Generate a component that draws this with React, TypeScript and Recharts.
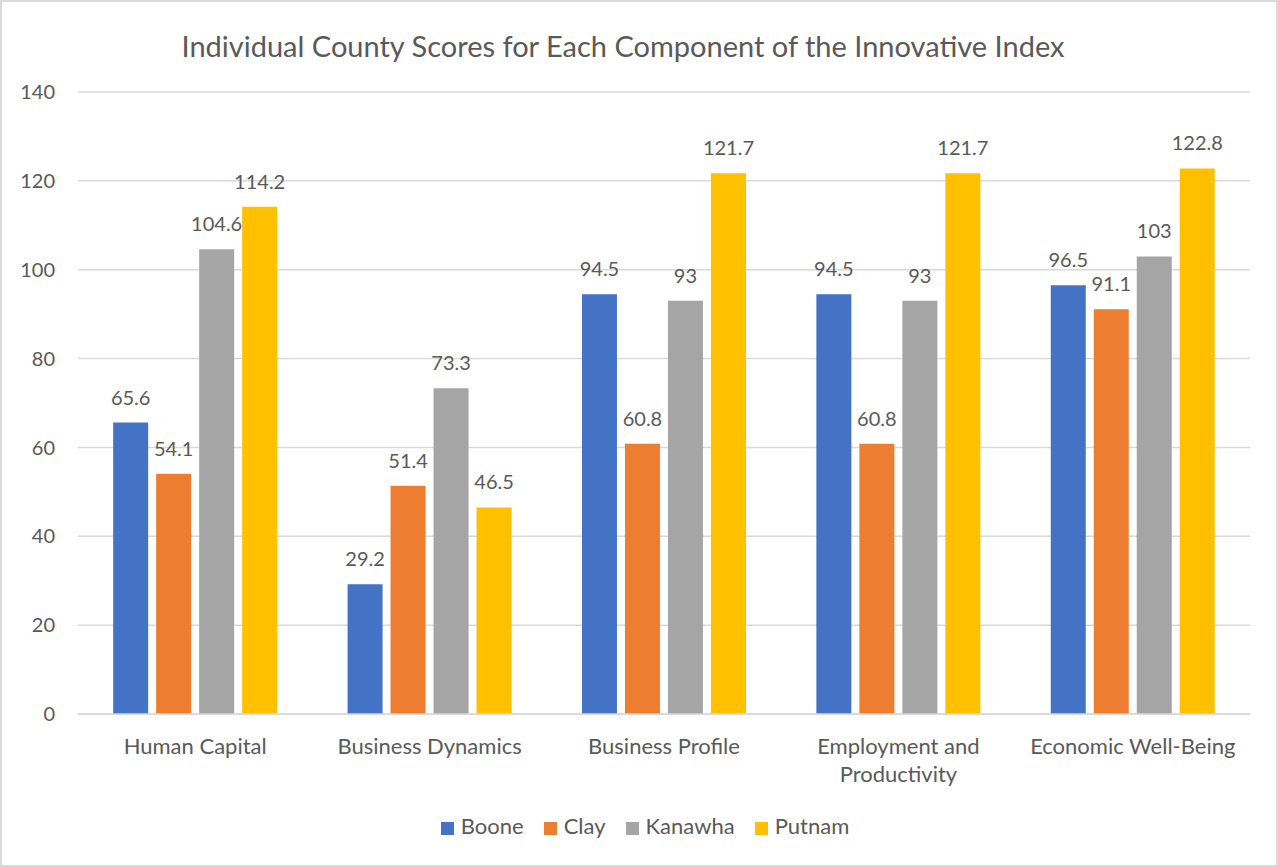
import React from 'react';
import { BarChart, Bar, XAxis, YAxis, CartesianGrid, Legend, LabelList } from 'recharts';

const categories = [
  'Human Capital',
  'Business Dynamics',
  'Business Profile',
  'Employment and Productivity',
  'Economic Well-Being',
];
const boone = [65.6, 29.2, 94.5, 94.5, 96.5];
const clay = [54.1, 51.4, 60.8, 60.8, 91.1];
const kanawha = [104.6, 73.3, 93, 93, 103];
const putnam = [114.2, 46.5, 121.7, 121.7, 122.8];
const yTicks = [0, 20, 40, 60, 80, 100, 120, 140];

const series = [
  { key: 'Boone', color: '#4472C4' },
  { key: 'Clay', color: '#ED7D31' },
  { key: 'Kanawha', color: '#A5A5A5' },
  { key: 'Putnam', color: '#FFC000' },
];

const data = categories.map((name, i) => ({
  name,
  Boone: boone[i],
  Clay: clay[i],
  Kanawha: kanawha[i],
  Putnam: putnam[i],
}));

const FONT = 'Lato, "Open Sans", sans-serif';
const GRAY = '#595959';

// wrap words so no line is longer than maxChars
function wrapLabel(label: string, maxChars = 19): string[] {
  const lines: string[] = [];
  let cur = '';
  for (const w of label.split(' ')) {
    const next = cur ? cur + ' ' + w : w;
    if (next.length > maxChars && cur) {
      lines.push(cur);
      cur = w;
    } else {
      cur = next;
    }
  }
  if (cur) lines.push(cur);
  return lines;
}

function CategoryTick(props: any) {
  const { x, y, payload } = props;
  const lines = wrapLabel(String(payload.value));
  return (
    <text x={x} y={y + 32} textAnchor="middle" fill={GRAY} fontSize={22} fontFamily={FONT}>
      {lines.map((l, i) => (
        <tspan key={i} x={x} dy={i === 0 ? 0 : 28}>
          {l}
        </tspan>
      ))}
    </text>
  );
}

export default function App() {
  return (
    <div
      style={{
        position: 'absolute',
        left: 0,
        top: 0,
        width: 1278,
        height: 867,
        boxSizing: 'border-box',
        border: '2px solid #d9d9d9',
        background: '#fff',
        fontFamily: FONT,
      }}
    >
      <div
        style={{
          position: 'absolute',
          top: 26,
          left: 0,
          width: 1242,
          textAlign: 'center',
          fontSize: 29,
          color: GRAY,
        }}
      >
        Individual County Scores for Each Component of the Innovative Index
      </div>
      <div style={{ position: 'absolute', left: -2, top: -2 }}>
        <BarChart
          width={1278}
          height={867}
          data={data}
          margin={{ top: 92, right: 28, left: 0, bottom: 28 }}
          barCategoryGap="15%"
          barGap={8}
        >
          <CartesianGrid vertical={false} stroke="#d9d9d9" strokeWidth={1.5} />
          <XAxis
            dataKey="name"
            axisLine={{ stroke: '#d9d9d9', strokeWidth: 1.5 }}
            tickLine={false}
            tick={(p: any) => <CategoryTick {...p} />}
            interval={0}
            height={98}
          />
          <YAxis
            domain={[0, 140]}
            ticks={yTicks}
            axisLine={false}
            tickLine={false}
            width={78}
            tick={{ fill: GRAY, fontSize: 20, fontFamily: FONT, dx: -15 }}
          />
          <Legend
            verticalAlign="bottom"
            align="center"
            iconType="square"
            iconSize={13}
            wrapperStyle={{ fontSize: 22, fontFamily: FONT, paddingLeft: 0, marginLeft: 30 }}
            formatter={(value: string) => (
              <span style={{ color: GRAY, marginLeft: 3, marginRight: 10 }}>{value}</span>
            )}
          />
          {series.map((s) => (
            <Bar key={s.key} dataKey={s.key} fill={s.color} isAnimationActive={false}>
              <LabelList
                dataKey={s.key}
                position="top"
                offset={18}
                fill={GRAY}
                fontSize={20}
                fontFamily={FONT}
              />
            </Bar>
          ))}
        </BarChart>
      </div>
    </div>
  );
}
